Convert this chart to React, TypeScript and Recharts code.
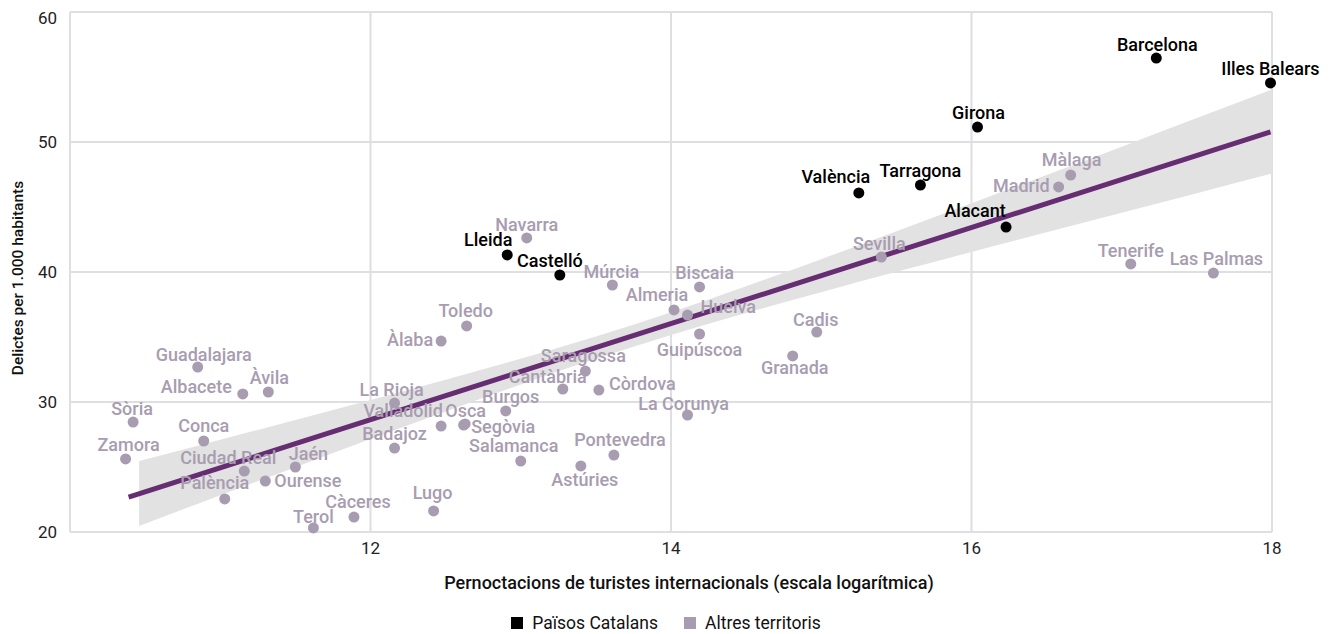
import { Area, ComposedChart, CartesianGrid, Line, Scatter, XAxis, YAxis } from 'recharts';

// Països Catalans
const catNames = ['Barcelona', 'Illes Balears', 'Girona', 'València', 'Tarragona', 'Alacant', 'Lleida', 'Castelló'];
const catX = [17.23, 17.99, 16.04, 15.25, 15.66, 16.23, 12.91, 13.26];
const catY = [56.46, 54.54, 51.15, 46.08, 46.69, 43.46, 41.31, 39.77];

// Altres territoris
const otherNames = [
  'Màlaga', 'Madrid', 'Sevilla', 'Tenerife', 'Las Palmas', 'Navarra', 'Múrcia', 'Biscaia', 'Almeria', 'Huelva',
  'Guipúscoa', 'Cadis', 'Granada', 'Toledo', 'Àlaba', 'Saragossa', 'Cantàbria', 'Còrdova', 'Burgos', 'La Corunya',
  'Valladolid', 'Osca', 'Segòvia', 'Salamanca', 'Astúries', 'Pontevedra', 'Lugo', 'La Rioja', 'Badajoz', 'Càceres',
  'Terol', 'Jaén', 'Ourense', 'Ciudad Real', 'Palència', 'Conca', 'Zamora', 'Sòria', 'Guadalajara', 'Albacete', 'Àvila',
];
const otherX = [
  16.66, 16.58, 15.4, 17.06, 17.61, 13.04, 13.61, 14.19, 14.02, 14.11,
  14.19, 14.97, 14.81, 12.64, 12.47, 13.43, 13.28, 13.52, 12.9, 14.11,
  12.47, 12.62, 12.63, 13.0, 13.4, 13.62, 12.42, 12.16, 12.16, 11.89,
  11.62, 11.5, 11.3, 11.16, 11.03, 10.89, 10.37, 10.42, 10.85, 11.15, 11.32,
];
const otherY = [
  47.46, 46.54, 41.15, 40.62, 39.92, 42.62, 39.0, 38.85, 37.08, 36.69,
  35.23, 35.38, 33.54, 35.85, 34.69, 32.38, 31.0, 30.92, 29.31, 29.0,
  28.15, 28.23, 28.31, 25.46, 25.08, 25.92, 21.62, 29.92, 26.46, 21.15,
  20.31, 25.0, 23.92, 24.69, 22.54, 27.0, 25.62, 28.46, 32.69, 30.62, 30.77,
];

// fitted line and confidence band
const fitX = [10.39, 17.99];
const fitY = [22.69, 50.77];
const bandX = [10.46, 11, 11.5, 12, 12.5, 13, 13.5, 14, 14.5, 15, 15.5, 16, 16.5, 17, 17.5, 18];
const bandLow = [20.46, 22.83, 24.99, 27.15, 29.27, 31.35, 33.32, 35.15, 36.85, 38.45, 40.01, 41.54, 43.06, 44.56, 46.06, 47.57];
const bandHigh = [25.46, 27.1, 28.61, 30.15, 31.71, 33.33, 35.04, 36.91, 38.91, 40.99, 43.13, 45.28, 47.46, 49.64, 51.84, 54.03];

const xTicks = [10, 12, 14, 16, 18];
const yTicks = [20, 30, 40, 50, 60];

// label placement: [dx, dy, anchor]
type Anchor = 'start' | 'middle' | 'end';
const LABEL_POS: Record<string, [number, number, Anchor]> = {
  Barcelona: [1, -7, 'middle'],
  'Illes Balears': [0, -8, 'middle'],
  Girona: [1, -8, 'middle'],
  València: [-23, -10, 'middle'],
  Tarragona: [0, -8, 'middle'],
  Alacant: [-31, -10, 'middle'],
  Lleida: [-19, -9, 'middle'],
  Castelló: [-10, -8, 'middle'],
  Màlaga: [1, -9, 'middle'],
  Madrid: [-9, 5, 'end'],
  Sevilla: [-2, -7, 'middle'],
  Tenerife: [0, -7, 'middle'],
  'Las Palmas': [3, -8, 'middle'],
  Navarra: [0, -7, 'middle'],
  Múrcia: [-1, -7, 'middle'],
  Biscaia: [5, -8, 'middle'],
  Almeria: [-17, -9, 'middle'],
  Huelva: [13, -2, 'start'],
  Guipúscoa: [0, 22, 'middle'],
  Cadis: [-1, -6, 'middle'],
  Granada: [2, 18, 'middle'],
  Toledo: [-1, -9, 'middle'],
  Àlaba: [-8, 5, 'end'],
  Saragossa: [-2, -9, 'middle'],
  Cantàbria: [-15, -6, 'middle'],
  Còrdova: [10, 0, 'start'],
  Burgos: [5, -8, 'middle'],
  'La Corunya': [-4, -5, 'middle'],
  Valladolid: [-38, -9, 'middle'],
  Osca: [2, -8, 'middle'],
  Segòvia: [6, 9, 'start'],
  Salamanca: [-7, -9, 'middle'],
  Astúries: [4, 20, 'middle'],
  Pontevedra: [6, -9, 'middle'],
  Lugo: [-1, -12, 'middle'],
  'La Rioja': [-3, -7, 'middle'],
  Badajoz: [0, -8, 'middle'],
  Càceres: [4, -9, 'middle'],
  Terol: [0, -5, 'middle'],
  Jaén: [13, -7, 'middle'],
  Ourense: [9, 6, 'start'],
  'Ciudad Real': [-16, -7, 'middle'],
  Palència: [-10, -10, 'middle'],
  Conca: [0, -9, 'middle'],
  Zamora: [3, -8, 'middle'],
  Sòria: [-1, -7, 'middle'],
  Guadalajara: [6, -6, 'middle'],
  Albacete: [-11, -1, 'end'],
  Àvila: [1, -8, 'middle'],
};

const BLACK = '#000000';
const GREY = '#a89cb0';
const PURPLE = '#662d73';
const FONT = 'Roboto, sans-serif';

const catData = catNames.map((name, i) => ({ name, x: catX[i], y: catY[i] }));
const otherData = otherNames.map((name, i) => ({ name, x: otherX[i], y: otherY[i] }));
const fitData = fitX.map((x, i) => ({ x, y: fitY[i] }));
const bandData = bandX.map((x, i) => ({ x, range: [bandLow[i], bandHigh[i]] }));

const makeDot = (color: string) => (props: any) => {
  const { cx, cy, payload } = props;
  const [dx, dy, anchor] = LABEL_POS[payload.name] ?? [0, -8, 'middle'];
  return (
    <g>
      <circle cx={cx} cy={cy} r={5.5} fill={color} />
      <text
        x={cx + dx}
        y={cy + dy}
        textAnchor={anchor}
        fill={color}
        fontFamily={FONT}
        fontSize={18}
        fontWeight={500}
      >
        {payload.name}
      </text>
    </g>
  );
};

const tickStyle = { fill: '#222', fontSize: 17, fontFamily: FONT };

export default function App() {
  return (
    <div style={{ position: 'relative', width: 1320, height: 626, fontFamily: FONT }}>
      <ComposedChart width={1320} height={626} margin={{ top: 4, right: 56, bottom: 0, left: 0 }}>
        <CartesianGrid stroke="#dedee3" strokeWidth={2} />
        <XAxis
          type="number"
          dataKey="x"
          domain={[10, 18]}
          ticks={xTicks}
          tickFormatter={(v: number) => (v === 10 ? '' : String(v))}
          height={102}
          axisLine={false}
          tickLine={false}
          tickMargin={4}
          tick={tickStyle}
        />
        <YAxis
          type="number"
          domain={[20, 60]}
          ticks={yTicks}
          width={62}
          axisLine={false}
          tickLine={false}
          tickMargin={7}
          tick={tickStyle}
        />
        <Area
          data={bandData}
          dataKey="range"
          type="monotone"
          stroke="none"
          fill="#e2e2e2"
          fillOpacity={1}
          isAnimationActive={false}
        />
        <Line
          data={fitData}
          dataKey="y"
          type="linear"
          stroke={PURPLE}
          strokeWidth={5}
          dot={false}
          activeDot={false}
          isAnimationActive={false}
        />
        <Scatter data={otherData} dataKey="y" shape={makeDot(GREY)} isAnimationActive={false} />
        <Scatter data={catData} dataKey="y" shape={makeDot(BLACK)} isAnimationActive={false} />
      </ComposedChart>

      <div
        style={{
          position: 'absolute',
          left: 10,
          top: 270,
          transform: 'translate(-50%, -50%) rotate(-90deg)',
          whiteSpace: 'nowrap',
          fontSize: 15.5,
          fontWeight: 500,
          color: '#111',
        }}
      >
        Delictes per 1.000 habitants
      </div>
      <div
        style={{
          position: 'absolute',
          left: 681,
          top: 574,
          transform: 'translate(-50%, -50%)',
          whiteSpace: 'nowrap',
          fontSize: 18,
          fontWeight: 500,
          color: '#111',
        }}
      >
        Pernoctacions de turistes internacionals (escala logarítmica)
      </div>
      <div
        style={{
          position: 'absolute',
          left: 0,
          width: 1316,
          top: 605,
          display: 'flex',
          justifyContent: 'center',
          gap: 26,
          fontSize: 17.5,
          color: '#111',
        }}
      >
        {[
          ['Països Catalans', BLACK],
          ['Altres territoris', GREY],
        ].map(([label, color]) => (
          <div key={label} style={{ display: 'flex', alignItems: 'center', gap: 9 }}>
            <span style={{ width: 12, height: 12, background: color, display: 'inline-block' }} />
            <span>{label}</span>
          </div>
        ))}
      </div>
    </div>
  );
}
